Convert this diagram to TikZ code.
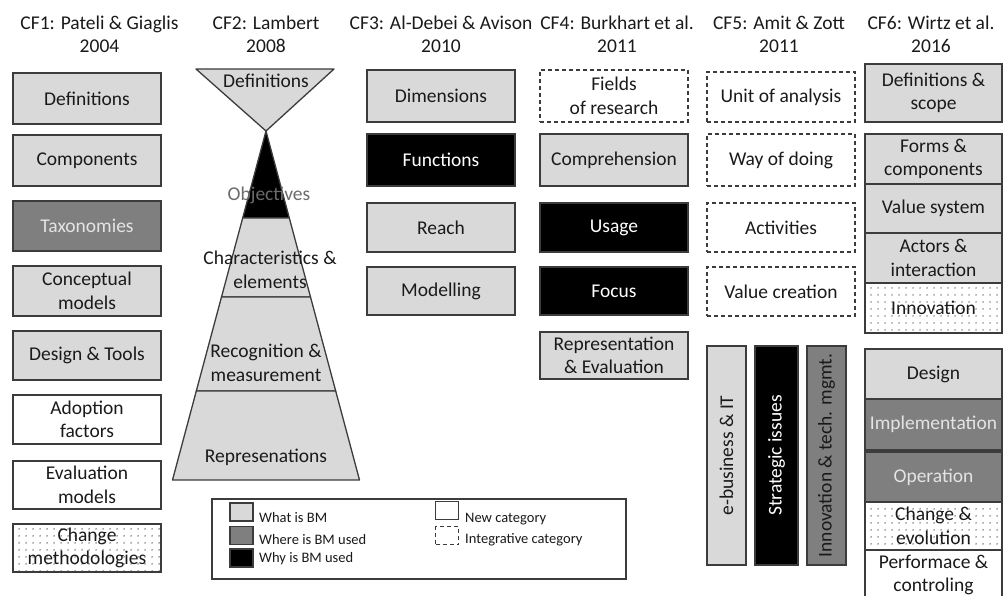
\documentclass[tikz,border=0pt]{standalone}
\usepackage{fontspec}
\setmainfont{Carlito}
\usetikzlibrary{patterns.meta}

\definecolor{lightg}{HTML}{D9D9D9}
\definecolor{darkg}{HTML}{7F7F7F}
\definecolor{edge}{HTML}{3C3C3C}
\definecolor{ink}{HTML}{1A1A1A}
\definecolor{paleink}{HTML}{E4E4E4}

\tikzset{
  base/.style={draw=edge, line width=1.3pt, inner sep=0pt, align=center,
    text=ink, font=\fontsize{19.5}{23.5}\selectfont},
  col/.style={base, minimum width=148pt},
  stack/.style={base, minimum width=137pt},
  whatbox/.style={fill=lightg},
  wherebox/.style={fill=darkg, text=paleink},
  whybox/.style={fill=black, text=white},
  newbox/.style={fill=white},
  integbox/.style={fill=white, dash pattern=on 4pt off 3pt},
  dotbox/.style={pattern={Dots[distance=6.5pt, radius=0.75pt]}, pattern color=black!85},
  title/.style={align=center, text=ink, inner sep=0pt,
    font=\fontsize{19.5}{23.5}\selectfont},
  pyr/.style={draw=edge, line width=1.3pt, line join=round},
  plabel/.style={align=center, text=ink, inner sep=0pt,
    font=\fontsize{19.5}{23.5}\selectfont},
  swatch/.style={draw=edge, line width=1.2pt, minimum width=23pt, minimum height=18pt, inner sep=0pt},
  legtext/.style={anchor=west, text=ink, inner sep=0pt, font=\fontsize{14.5}{17}\selectfont},
}

\begin{document}
\begin{tikzpicture}[x=1pt, y=-1pt]
\useasboundingbox (0,0) rectangle (1003,596);
\fill[white] (0,0) rectangle (1003,596);
\clip (0,0) rectangle (1003,596);

% column headings
\node[title] (t1) at (99.5,34.5) {CF1: Pateli \& Giaglis\\2004};
\node[title] (t2) at (266,34.5) {CF2: Lambert\\2008};
\node[title] (t3) at (441,34.5) {CF3: Al-Debei \& Avison\\2010};
\node[title] (t4) at (617,34.5) {CF4: Burkhart et al.\\2011};
\node[title] (t5) at (779,34.5) {CF5: Amit \& Zott\\2011};
\node[title] (t6) at (931,34.5) {CF6: Wirtz et al.\\2016};

% CF1
\node[col, whatbox, minimum height=51pt] (def1) at (87,98.5) {Definitions};
\node[col, whatbox, minimum height=51pt] (comp1) at (87,160.5) {Components};
\node[col, wherebox, minimum height=50pt] (tax1) at (87,226) {Taxonomies};
\node[col, whatbox, minimum height=50pt] (conc1) at (87,291) {Conceptual\\models};
\node[col, whatbox, minimum height=49pt] (des1) at (87,355.5) {Design \& Tools};
\node[col, newbox, minimum height=49pt] (adop1) at (87,419.5) {Adoption\\factors};
\node[col, newbox, minimum height=48pt] (eval1) at (87,485) {Evaluation\\models};
\node[col, dotbox, minimum height=48pt] (chg1) at (87,548) {Change\\methodologies};

% CF2: hourglass and pyramid
\filldraw[pyr, fill=lightg] (196,69) -- (334,69) -- (266,131) -- cycle;
\filldraw[pyr, fill=black] (266,131) -- (289.3,218) -- (242.7,218) -- cycle;
\filldraw[pyr, fill=lightg] (242.7,218) -- (289.3,218) -- (310.5,297) -- (221.5,297) -- cycle;
\filldraw[pyr, fill=lightg] (221.5,297) -- (310.5,297) -- (335.7,391) -- (196.3,391) -- cycle;
\filldraw[pyr, fill=lightg] (196.3,391) -- (335.7,391) -- (359.5,480) -- (172.5,480) -- cycle;
\node[plabel] (pdef) at (266,81) {Definitions};
\node[plabel, text=black!58] (pobj) at (269,195) {Objectives};
\node[plabel] (pchar) at (270,270) {Characteristics \&\\elements};
\node[plabel] (prec) at (266,363) {Recognition \&\\measurement};
\node[plabel] (prep) at (266,457) {Represenations};

% CF3
\node[col, whatbox, minimum height=52pt] (dim3) at (441,96) {Dimensions};
\node[col, whybox, minimum height=52pt] (fun3) at (441,160) {Functions};
\node[col, whatbox, minimum height=49pt] (rea3) at (441,227.5) {Reach};
\node[col, whatbox, minimum height=48pt] (mod3) at (441,291) {Modelling};

% CF4
\node[col, integbox, minimum height=52pt] (fld4) at (614,96) {Fields\\of research};
\node[col, whatbox, minimum height=52pt] (cmp4) at (614,160) {Comprehension};
\node[col, whybox, minimum height=49pt] (use4) at (614,227.5) {Usage};
\node[col, whybox, minimum height=48pt] (foc4) at (614,291) {Focus};
\node[col, whatbox, minimum height=47pt] (rep4) at (614,355.5) {Representation\\\& Evaluation};

% CF5
\node[col, integbox, minimum height=50pt] (unit5) at (781,97) {Unit of analysis};
\node[col, integbox, minimum height=52pt] (way5) at (781,160) {Way of doing};
\node[col, integbox, minimum height=49pt] (act5) at (781,227.5) {Activities};
\node[col, integbox, minimum height=49pt] (val5) at (781,291.5) {Value creation};
\node[base, whatbox, rotate=90, minimum width=219pt, minimum height=39pt] (ebiz5) at (726.5,455.5) {e-business \& IT};
\node[base, whybox, rotate=90, minimum width=219pt, minimum height=43pt] (strat5) at (776.5,455.5) {Strategic issues};
\node[base, fill=darkg, text=ink, rotate=90, minimum width=219pt, minimum height=39pt] (innov5) at (826.5,455.5) {Innovation \& tech. mgmt.};

% CF6
\node[stack, whatbox, minimum height=58pt] (defs6) at (933.5,93) {Definitions \&\\scope};
\node[stack, whatbox, minimum height=50pt] (form6) at (933.5,159) {Forms \&\\components};
\node[stack, whatbox, minimum height=49pt] (vsys6) at (933.5,208.5) {Value system};
\node[stack, whatbox, minimum height=50pt] (act6) at (933.5,258) {Actors \&\\interaction};
\node[stack, dotbox, minimum height=50pt] (inn6) at (933.5,308) {Innovation};
\node[stack, whatbox, minimum height=50pt] (des6) at (933.5,374) {Design};
\node[stack, wherebox, minimum height=51pt] (imp6) at (933.5,424.5) {Implementation};
\node[stack, wherebox, minimum height=50pt] (op6) at (933.5,477) {Operation};
\node[stack, dotbox, minimum height=48pt] (chg6) at (933.5,526) {Change \&\\evolution};
\node[stack, newbox, minimum height=50pt] (perf6) at (933.5,575) {Performace \&\\controling};

% legend
\node[draw=edge, line width=1.3pt, minimum width=414pt, minimum height=80pt, inner sep=0pt] (legend) at (419,539) {};
\node[swatch, fill=lightg] (swwhat) at (241.5,512) {};
\node[swatch, fill=darkg] (swwhere) at (241.5,535.5) {};
\node[swatch, fill=black] (swwhy) at (241.5,558) {};
\node[swatch, fill=white] (swnew) at (447,510.5) {};
\node[swatch, fill=white, dash pattern=on 4pt off 3pt] (swint) at (447,535.5) {};
\node[legtext] (lwhat) at (259,518) {What is BM};
\node[legtext] (lwhere) at (259,540) {Where is BM used};
\node[legtext] (lwhy) at (259,559) {Why is BM used};
\node[legtext] (lnew) at (465,519) {New category};
\node[legtext] (lint) at (465,540) {Integrative category};
\end{tikzpicture}
\end{document}
